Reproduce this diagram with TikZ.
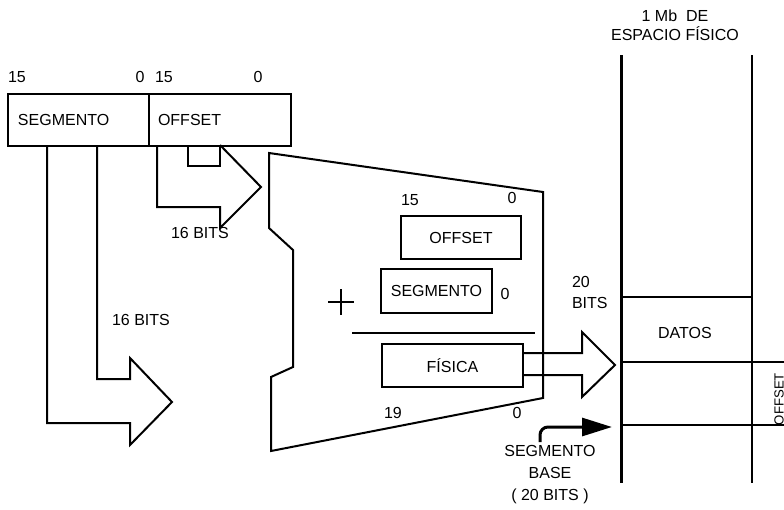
\documentclass[tikz,border=0pt]{standalone}
\usepackage{fontspec}
\setmainfont{Liberation Sans}
\usetikzlibrary{arrows.meta}
\usetikzlibrary{positioning}

\tikzset{
  lbl/.style={inner sep=0pt,font=\fontsize{8}{10.5}\selectfont},
  reg/.style={draw,line width=1pt,inner ysep=0pt,font=\fontsize{8}{10.5}\selectfont},
}

\begin{document}
\begin{tikzpicture}[x=0.5pt,y=-0.5pt,line width=1pt]
\useasboundingbox (0,0) rectangle (784,510);
% registros de 16 bits
\node[reg,anchor=north west,minimum height=26pt,text width=60.5pt,inner xsep=5pt,align=left] (seg) at (7,93) {SEGMENTO};
\node[reg,anchor=north west,minimum height=26pt,text width=62pt,inner xsep=4.5pt,align=left] (off) at (148,93) {OFFSET};
\node[lbl] (s15) at (17,77) {15};
\node[lbl] (s0) at (140,77) {0};
\node[lbl] (o15) at (164,77) {15};
\node[lbl] (o0) at (258,77) {0};
% flechas huecas
\draw (157,145) -- (157,207) -- (220,207) -- (220,228) -- (261,187) -- (220,145);
\draw (188,145) -- (188,166) -- (220,166) -- (220,145);
\node[lbl] (bitsa) at (200,233) {16 BITS};
\draw (47,145) -- (47,423) -- (130,423) -- (130,445) -- (172,402) -- (130,358) -- (130,379) -- (97,379) -- (97,145);
\node[lbl] (bitsb) at (141,320) {16 BITS};
% sumador
\draw (269,153) -- (543,192) -- (543,398) -- (271,451) -- (271,377) -- (293,367) -- (293,250) -- (269,228) -- cycle;
\node[lbl] (i15) at (410,200) {15};
\node[lbl] (i0a) at (512,198) {0};
\node[reg,minimum width=60pt,minimum height=21.5pt] (offin) at (461,237.5) {OFFSET};
\node[reg,minimum width=55.5pt,minimum height=22pt,inner xsep=1pt] (segin) at (436.5,291) {SEGMENTO};
\node[lbl] (i0b) at (505,294) {0};
\draw[line width=0.8pt] (328,302) -- (354,302) (341,289) -- (341,315);
\draw (352,333) -- (535,333);
\node[reg,minimum width=70.5pt,minimum height=21.5pt] (fis) at (452.5,365.5) {FÍSICA};
\node[lbl] (i19) at (393,413) {19};
\node[lbl] (i0c) at (517,413) {0};
\draw (fis.east |- 0,353) -- (582,353) -- (582,332) -- (615,365) -- (582,397) -- (582,375) -- (fis.east |- 0,375);
\node[lbl,align=left,anchor=west] (bits20) at (571,292) {20\\BITS};
% memoria
\node[lbl,align=center] (hdr) at (675,25) {1 Mb\ \ DE\\[-1pt]ESPACIO FÍSICO};
\draw[line width=1.5pt] (621,55) -- (621,483);
\draw[line width=1.3pt] (752,55) -- (752,483);
\draw (621,297) -- (752,297);
\draw (621,362) -- (784,362);
\draw (621,425) -- (784,425);
\node[lbl] (datos) at (685,333) {DATOS};
\node[lbl,rotate=90,font=\fontsize{6.6}{8}\selectfont] (offm) at (779,399) {OFFSET};
\draw[line width=1.5pt,rounded corners=4pt,-{Triangle[length=15pt,width=9pt]}] (540,442) -- (540,427) -- (612,427);
\node[lbl,align=center] (base) at (550,475) {SEGMENTO\\[0.5pt]BASE\\[0.5pt]( 20 BITS )};
\end{tikzpicture}
\end{document}
